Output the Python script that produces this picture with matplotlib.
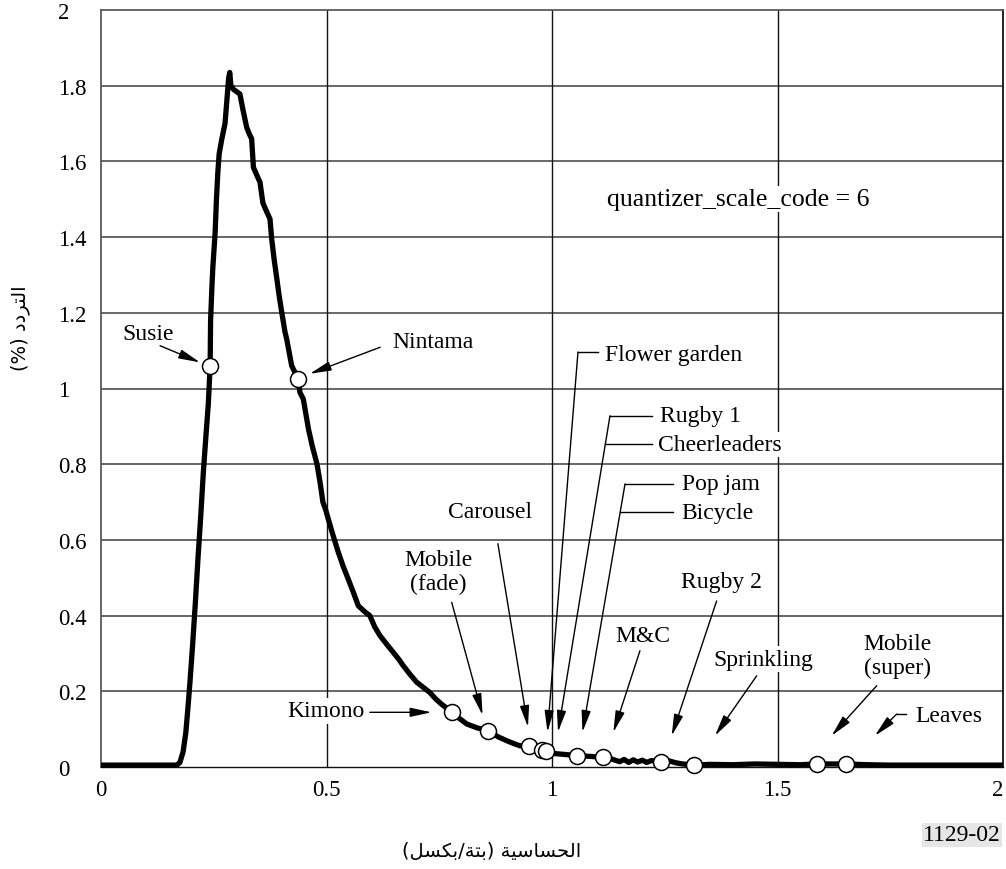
import matplotlib
matplotlib.use("Agg")
import matplotlib.pyplot as plt
from matplotlib.transforms import ScaledTranslation

# ---------------- data ----------------
sensitivity = [0.0, 0.10, 0.168, 0.175, 0.182, 0.188, 0.193, 0.197, 0.203, 0.209, 0.215,
               0.221, 0.227, 0.233, 0.238, 0.242, 0.243, 0.246, 0.248, 0.253, 0.256,
               0.259, 0.262, 0.268, 0.275, 0.279, 0.283, 0.2855, 0.288, 0.294, 0.300,
               0.308, 0.315, 0.323, 0.329, 0.334, 0.338, 0.345, 0.3525, 0.359, 0.367,
               0.3747, 0.3785, 0.384, 0.390, 0.395, 0.4007, 0.408, 0.4117, 0.4228, 0.4375,
               0.441, 0.4486, 0.460, 0.468, 0.479, 0.486, 0.492, 0.498, 0.504, 0.515,
               0.526, 0.537, 0.548, 0.560, 0.5705, 0.585, 0.596, 0.607, 0.6186, 0.633,
               0.648, 0.660, 0.670, 0.685, 0.700, 0.715, 0.729, 0.742, 0.755, 0.766,
               0.7776, 0.795, 0.811, 0.835, 0.8588, 0.880, 0.8995, 0.915, 0.929, 0.950,
               0.965, 0.977, 0.987, 0.995, 1.000, 1.030, 1.056, 1.085, 1.114, 1.130,
               1.140, 1.150, 1.160, 1.170, 1.180, 1.190, 1.200, 1.210, 1.220, 1.241,
               1.260, 1.275, 1.290, 1.315, 1.350, 1.400, 1.450, 1.500, 1.550, 1.587,
               1.652, 1.700, 1.750, 1.800, 1.900, 2.000]
frequency = [0.005, 0.005, 0.005, 0.012, 0.04, 0.09, 0.16, 0.22, 0.32, 0.43, 0.55,
             0.66, 0.78, 0.88, 0.96, 1.06, 1.18, 1.27, 1.32, 1.41, 1.50,
             1.57, 1.62, 1.66, 1.70, 1.76, 1.82, 1.835, 1.80, 1.79, 1.785,
             1.778, 1.735, 1.69, 1.672, 1.66, 1.584, 1.565, 1.545, 1.49, 1.468,
             1.448, 1.395, 1.34, 1.289, 1.245, 1.202, 1.149, 1.131, 1.06, 1.025,
             0.99, 0.972, 0.893, 0.85, 0.80, 0.75, 0.70, 0.68, 0.655, 0.61,
             0.568, 0.53, 0.497, 0.46, 0.426, 0.41, 0.40, 0.37, 0.347, 0.325,
             0.303, 0.285, 0.268, 0.245, 0.224, 0.21, 0.197, 0.18, 0.166, 0.156,
             0.1445, 0.128, 0.1136, 0.103, 0.096, 0.08, 0.0695, 0.062, 0.056, 0.056,
             0.05, 0.0457, 0.043, 0.038, 0.036, 0.033, 0.030, 0.028, 0.0255, 0.022,
             0.018, 0.014, 0.020, 0.012, 0.019, 0.013, 0.018, 0.012, 0.017, 0.014,
             0.016, 0.011, 0.008, 0.005, 0.007, 0.006, 0.008, 0.007, 0.006, 0.008,
             0.008, 0.006, 0.005, 0.005, 0.005, 0.005]

point_sensitivity = [0.2417, 0.4375, 0.7776, 0.8588, 0.950, 0.977, 0.987, 1.056,
                     1.114, 1.241, 1.315, 1.587, 1.652]
point_frequency = [1.06, 1.025, 0.1445, 0.096, 0.056, 0.0457, 0.043, 0.030,
                   0.0255, 0.014, 0.005, 0.008, 0.008]

x_ticks = [0, 0.5, 1, 1.5, 2]
x_tick_labels = ["0", "0.5", "1", "1.5", "2"]
y_ticks = [0, 0.2, 0.4, 0.6, 0.8, 1.0, 1.2, 1.4, 1.6, 1.8, 2.0]
y_tick_labels = ["0", "0.2", "0.4", "0.6", "0.8", "1", "1.2", "1.4", "1.6", "1.8", "2"]

# Arabic labels in visual order with presentation forms
# "التردد (%)"
y_label = "(%) " + "\uFEA9\uFEA9\uFEAE\uFE98\uFEDF\uFE8D"
# "الحساسية (بتة/بكسل)"
x_label = ("(" + "\uFEDE\uFEB4\uFEDC\uFE91" + "/" + "\uFE94\uFE98\uFE91" + ") "
           + "\uFE94\uFEF4\uFEB3\uFE8E\uFEB4\uFEA4\uFEDF\uFE8D")
figure_code = "1129-02"
note = "quantizer_scale_code = 6"

# ---------------- figure ----------------
plt.rcParams['font.family'] = ['Liberation Serif', 'DejaVu Sans']
plt.rcParams['mathtext.default'] = 'regular'

fig = plt.figure(figsize=(10.06, 8.70), dpi=100)
ax = fig.add_axes([101 / 1006, 1 - 768 / 870, 902 / 1006, 757 / 870])
ax.set_xlim(0, 2)
ax.set_ylim(0, 2)

# grid
for yv in y_ticks[1:-1]:
    ax.axhline(yv, color='#5a5a5a', lw=1.3, zorder=1)
for xv in x_ticks[1:-1]:
    ax.axvline(xv, color='#111111', lw=1.0, zorder=1)

for side in ['left', 'top']:
    ax.spines[side].set_color('#5a5a5a')
    ax.spines[side].set_linewidth(1.3)
ax.spines['right'].set_color('#111111')
ax.spines['right'].set_linewidth(1.3)
ax.spines['bottom'].set_color('#111111')
ax.spines['bottom'].set_linewidth(1.0)

ax.plot(sensitivity, frequency, color='black', lw=3.8, solid_joinstyle='round',
        solid_capstyle='butt', zorder=4, clip_on=False)
ax.plot(point_sensitivity, point_frequency, linestyle='none', marker='o',
        markersize=11.5, markerfacecolor='white', markeredgecolor='black',
        markeredgewidth=1.1, zorder=5, clip_on=False)

ax.set_xticks(x_ticks)
ax.set_xticklabels(x_tick_labels)
ax.set_yticks(y_ticks)
ax.set_yticklabels(y_tick_labels)
ax.tick_params(axis='both', length=0, labelsize=16.5)
ax.tick_params(axis='x', pad=9)
ax.tick_params(axis='y', pad=31)
for lab in ax.get_yticklabels():
    lab.set_horizontalalignment('left')
last_x = ax.get_xticklabels()[-1]
last_x.set_transform(last_x.get_transform()
                     + ScaledTranslation(-4 / 72, 0, fig.dpi_scale_trans))

fig.text(20 / 1006, 1 - 328 / 870, y_label, rotation=90, ha='center', va='center',
         fontsize=14, family=['DejaVu Sans'])
fig.text(492 / 1006, 1 - 852 / 870, x_label, ha='center', va='center',
         fontsize=14, family=['DejaVu Sans'])
fig.text(962 / 1006, 1 - 836 / 870, figure_code, ha='center', va='center',
         fontsize=17, bbox=dict(facecolor='#e6e6e6', edgecolor='none', pad=1))

FS = 17
box = dict(facecolor='white', edgecolor='none', pad=1.5)
arrow_kw = dict(arrowstyle='-|>,head_length=1.3,head_width=0.28', color='black',
                lw=1.0, shrinkA=0, shrinkB=0, mutation_scale=10)


def label(x, y, s, ha='center', fs=FS):
    ax.text(x, y, s, ha=ha, va='center', fontsize=fs, bbox=box, zorder=6,
            linespacing=1.12, multialignment='center')


def arrow(start, tip):
    ax.annotate('', xy=tip, xytext=start, arrowprops=arrow_kw, zorder=6)


def leader(points):
    xs = [p[0] for p in points]
    ys = [p[1] for p in points]
    ax.plot(xs, ys, color='black', lw=1.0, zorder=6)


label(0.104, 1.144, "Susie")
arrow((0.131, 1.113), (0.2195, 1.069))

label(0.645, 1.123, "Nintama", ha='left')
arrow((0.619, 1.109), (0.463, 1.039))

label(0.499, 0.148, "Kimono")
arrow((0.596, 0.1445), (0.733, 0.1445))

label(0.748, 0.5165, "Mobile\n(fade)")
arrow((0.7776, 0.435), (0.846, 0.137))

label(0.8625, 0.674, "Carousel")
arrow((0.880, 0.590), (0.9468, 0.1057))

label(1.1175, 1.091, "Flower garden", ha='left')
leader([(1.102, 1.0964), (1.0576, 1.0964)])
arrow((1.0576, 1.0964), (0.990, 0.0925))

label(1.2395, 0.928, "Rugby 1", ha='left')
label(1.235, 0.853, "Cheerleaders", ha='left')
leader([(1.221, 0.928), (1.1286, 0.928)])
leader([(1.221, 0.853), (1.1175, 0.853)])
arrow((1.1286, 0.928), (1.0133, 0.0925))

label(1.2876, 0.7477, "Pop jam", ha='left')
label(1.2876, 0.6729, "Bicycle", ha='left')
leader([(1.269, 0.7477), (1.1619, 0.7477)])
leader([(1.269, 0.6729), (1.1508, 0.6729)])
arrow((1.1619, 0.7477), (1.0676, 0.0925))

label(1.2007, 0.3469, "M&C")
arrow((1.195, 0.307), (1.136, 0.0917))

label(1.3763, 0.4914, "Rugby 2")
arrow((1.365, 0.4386), (1.2654, 0.0827))

label(1.4678, 0.2853, "Sprinkling")
arrow((1.4539, 0.241), (1.3614, 0.0827))

label(1.766, 0.2946, "Mobile\n(super)")
arrow((1.72, 0.2148), (1.62, 0.0827))

label(1.805, 0.1355, "Leaves", ha='left')
leader([(1.786, 0.14), (1.7643, 0.14)])
arrow((1.7643, 0.14), (1.716, 0.0827))

label(1.122, 1.5007, note, ha='left', fs=18.5)

fig.savefig("out.png", dpi=100)
